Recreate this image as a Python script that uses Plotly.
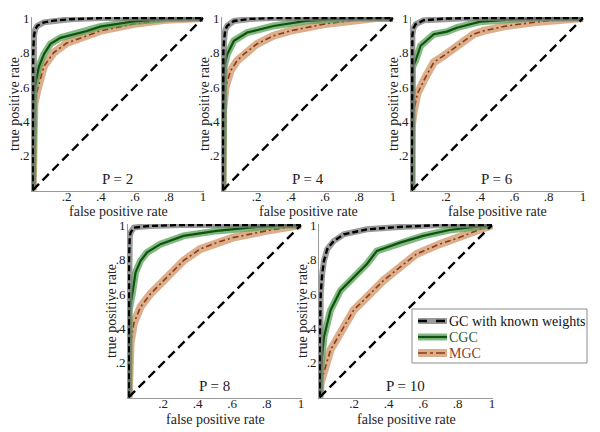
import plotly.graph_objects as go

# ---------------- data ----------------
panel_labels = ["P = 2", "P = 4", "P = 6", "P = 8", "P = 10"]
series_names = ["GC with known weights", "CGC", "MGC"]
tick_vals = [0.2, 0.4, 0.6, 0.8, 1.0]
tick_text = [".2", ".4", ".6", ".8", "1"]
x_title = "false positive rate"
y_title = "true positive rate"
diag_fpr = [0, 1]
diag_tpr = [0, 1]

# P = 2
gc_p2_fpr = [0, 0, 0.003, 0.008, 0.015, 0.027, 0.066, 0.124, 0.22, 0.4, 1]
gc_p2_tpr = [0, 0.55, 0.8, 0.9, 0.935, 0.955, 0.975, 0.985, 0.993, 1, 1]
cgc_p2_fpr = [0, 0, 0.008, 0.017, 0.037, 0.066, 0.105, 0.163, 0.24, 0.318, 0.395, 0.59, 0.8, 1]
cgc_p2_tpr = [0, 0.5, 0.58, 0.63, 0.72, 0.79, 0.85, 0.885, 0.905, 0.925, 0.95, 0.98, 0.997, 1]
mgc_p2_fpr = [0, 0, 0.01, 0.027, 0.066, 0.124, 0.2, 0.318, 0.395, 0.59, 0.78, 1]
mgc_p2_tpr = [0, 0.42, 0.5, 0.58, 0.72, 0.8, 0.855, 0.897, 0.925, 0.965, 0.99, 1]

# P = 4
gc_p4_fpr = [0, 0, 0.004, 0.008, 0.015, 0.027, 0.066, 0.16, 0.3, 1]
gc_p4_tpr = [0, 0.7, 0.8, 0.87, 0.93, 0.955, 0.983, 0.995, 1, 1]
cgc_p4_fpr = [0, 0, 0.008, 0.027, 0.066, 0.144, 0.298, 0.49, 0.68, 0.8, 1]
cgc_p4_tpr = [0, 0.45, 0.714, 0.79, 0.868, 0.916, 0.954, 0.983, 0.995, 1, 1]
mgc_p4_fpr = [0, 0.002, 0.017, 0.047, 0.085, 0.124, 0.2, 0.298, 0.395, 0.59, 0.78, 0.9, 1]
mgc_p4_tpr = [0, 0.465, 0.6, 0.695, 0.753, 0.79, 0.849, 0.897, 0.925, 0.964, 0.99, 1, 1]

# P = 6
gc_p6_fpr = [0, 0, 0.002, 0.004, 0.01, 0.023, 0.071, 0.2, 0.35, 1]
gc_p6_tpr = [0, 0.75, 0.85, 0.9, 0.94, 0.964, 0.987, 0.997, 1, 1]
cgc_p6_fpr = [0, 0, 0.004, 0.023, 0.052, 0.129, 0.206, 0.264, 0.4, 0.6, 0.75, 1]
cgc_p6_tpr = [0, 0.58, 0.714, 0.753, 0.839, 0.906, 0.921, 0.944, 0.979, 0.993, 1, 1]
mgc_p6_fpr = [0, 0, 0.013, 0.033, 0.071, 0.129, 0.2, 0.36, 0.418, 0.553, 0.746, 0.95, 1]
mgc_p6_tpr = [0, 0.37, 0.465, 0.56, 0.638, 0.743, 0.79, 0.906, 0.925, 0.954, 0.979, 1, 1]

# P = 8
gc_p8_fpr = [0, 0, 0.002, 0.006, 0.011, 0.03, 0.07, 0.126, 0.3, 1]
gc_p8_tpr = [0, 0.5, 0.8, 0.93, 0.956, 0.985, 0.99, 0.995, 1, 1]
cgc_p8_fpr = [0, 0, 0.003, 0.021, 0.04, 0.069, 0.107, 0.184, 0.318, 0.51, 0.7, 0.9, 1]
cgc_p8_tpr = [0, 0.39, 0.506, 0.6, 0.726, 0.793, 0.841, 0.889, 0.937, 0.966, 0.985, 1, 1]
mgc_p8_fpr = [0, 0, 0.011, 0.03, 0.069, 0.126, 0.222, 0.318, 0.414, 0.51, 0.605, 0.797, 1]
mgc_p8_tpr = [0, 0.16, 0.314, 0.43, 0.525, 0.6, 0.697, 0.793, 0.86, 0.898, 0.927, 0.966, 1]

# P = 10
gc_p10_fpr = [0, 0, 0.006, 0.015, 0.025, 0.044, 0.082, 0.14, 0.274, 0.466, 0.7, 1]
gc_p10_tpr = [0, 0.3, 0.6, 0.72, 0.793, 0.86, 0.908, 0.946, 0.975, 0.989, 1, 1]
cgc_p10_fpr = [0, 0.006, 0.025, 0.063, 0.121, 0.197, 0.274, 0.332, 0.466, 0.6, 0.753, 0.906, 1]
cgc_p10_tpr = [0, 0.16, 0.352, 0.506, 0.62, 0.697, 0.774, 0.85, 0.898, 0.937, 0.971, 0.99, 1]
mgc_p10_fpr = [0, 0.006, 0.063, 0.14, 0.197, 0.274, 0.37, 0.466, 0.562, 0.695, 0.81, 0.906, 1]
mgc_p10_tpr = [0, 0.084, 0.276, 0.41, 0.506, 0.582, 0.678, 0.755, 0.832, 0.889, 0.927, 0.966, 1]

panels = [
    (gc_p2_fpr, gc_p2_tpr, cgc_p2_fpr, cgc_p2_tpr, mgc_p2_fpr, mgc_p2_tpr),
    (gc_p4_fpr, gc_p4_tpr, cgc_p4_fpr, cgc_p4_tpr, mgc_p4_fpr, mgc_p4_tpr),
    (gc_p6_fpr, gc_p6_tpr, cgc_p6_fpr, cgc_p6_tpr, mgc_p6_fpr, mgc_p6_tpr),
    (gc_p8_fpr, gc_p8_tpr, cgc_p8_fpr, cgc_p8_tpr, mgc_p8_fpr, mgc_p8_tpr),
    (gc_p10_fpr, gc_p10_tpr, cgc_p10_fpr, cgc_p10_tpr, mgc_p10_fpr, mgc_p10_tpr),
]

# ---------------- styling ----------------
W, H = 600, 432
FONT = "Liberation Serif, Times New Roman, serif"
TXT = "#222222"
# pixel boxes (left, right, top, bottom)
boxes = [(32, 204, 17, 191), (222, 394, 17, 191), (411, 584, 17, 191),
         (128, 302, 224, 398), (319, 493, 224, 398)]

styles = {
    "GC with known weights": dict(band="rgba(120,120,120,0.75)", bw=6, col="black", lw=2.4, dash="6px,3px"),
    "CGC": dict(band="rgba(90,160,90,0.75)", bw=7, col="#0d520d", lw=2.2, dash="solid"),
    "MGC": dict(band="rgba(214,160,120,0.85)", bw=8, col="#8a3a14", lw=1.6, dash="6px,3px,2px,3px"),
}

fig = go.Figure()
layout = dict(width=W, height=H, margin=dict(l=0, r=0, t=0, b=0, autoexpand=False),
              paper_bgcolor="white", plot_bgcolor="white", showlegend=False,
              font=dict(family=FONT, size=14, color=TXT))
annotations = []

for i, (box, lab, data) in enumerate(zip(boxes, panel_labels, panels)):
    n = "" if i == 0 else str(i + 1)
    xa, ya = "x" + n, "y" + n
    l, r, t, b = box
    common = dict(range=[-0.004, 1.006], tickvals=tick_vals, ticktext=tick_text, showgrid=False,
                  zeroline=False, showline=True, linecolor="#9a9a9a", linewidth=1,
                  ticks="", automargin=False, tickfont=dict(family=FONT, size=13, color=TXT))
    layout["xaxis" + n] = dict(domain=[l / W, r / W], anchor=ya, ticklabelstandoff=-7, **common)
    layout["yaxis" + n] = dict(domain=[1 - b / H, 1 - t / H], anchor=xa, ticklabelstandoff=-1, **common)
    gf, gt, cf, ct, mf, mt = data
    for name, fx, ty in (("MGC", mf, mt), ("CGC", cf, ct), ("GC with known weights", gf, gt)):
        s = styles[name]
        fig.add_trace(go.Scatter(x=fx, y=ty, mode="lines", xaxis=xa, yaxis=ya, hoverinfo="skip",
                                 line=dict(color=s["band"], width=s["bw"])))
        fig.add_trace(go.Scatter(x=fx, y=ty, mode="lines", xaxis=xa, yaxis=ya, name=name,
                                 line=dict(color=s["col"], width=s["lw"], dash=s["dash"])))
    fig.add_trace(go.Scatter(x=diag_fpr, y=diag_tpr, mode="lines", xaxis=xa, yaxis=ya,
                             hoverinfo="skip", line=dict(color="black", width=2.4, dash="9px,5px")))
    annotations.append(dict(text=lab, x=0.5, y=0.005, xref=xa, yref=ya, showarrow=False,
                            xanchor="center", yanchor="bottom", font=dict(family=FONT, size=15, color=TXT)))
    # axis titles
    annotations.append(dict(text=x_title, x=(l + r) / 2 / W, y=1 - (b + 21) / H, xref="paper", yref="paper",
                            showarrow=False, xanchor="center", yanchor="middle",
                            font=dict(family=FONT, size=14, color=TXT)))
    annotations.append(dict(text=y_title, x=(l - 17) / W, y=1 - (t + b) / 2 / H, xref="paper", yref="paper",
                            showarrow=False, xanchor="center", yanchor="middle", textangle=-90,
                            font=dict(family=FONT, size=14, color=TXT)))

# ---------------- manual legend ----------------
lx0, lx1, ly0, ly1 = 412, 587, 309, 363
shapes = [dict(type="rect", xref="paper", yref="paper", x0=lx0 / W, x1=lx1 / W,
               y0=1 - ly1 / H, y1=1 - ly0 / H, line=dict(color="#8c8c8c", width=1),
               fillcolor="white", layer="above")]
text_cols = {"GC with known weights": "#111111", "CGC": "#2b5a2b", "MGC": "#8a3f2a"}
leg_dash = {"GC with known weights": "dash", "CGC": "solid", "MGC": "dashdot"}
for k, name in enumerate(series_names):
    yc = 1 - (321 + 16 * k) / H
    s = styles[name]
    shapes.append(dict(type="line", xref="paper", yref="paper", x0=418 / W, x1=447 / W, y0=yc, y1=yc,
                       line=dict(color=s["band"], width=s["bw"]), layer="above"))
    shapes.append(dict(type="line", xref="paper", yref="paper", x0=418 / W, x1=447 / W, y0=yc, y1=yc,
                       line=dict(color=s["col"], width=s["lw"], dash=leg_dash[name]), layer="above"))
    annotations.append(dict(text=name, x=447 / W, y=yc, xref="paper", yref="paper", showarrow=False,
                            xanchor="left", yanchor="middle", font=dict(family=FONT, size=14, color=text_cols[name])))

layout["shapes"] = shapes
layout["annotations"] = annotations
fig.update_layout(**layout)
fig.write_html("out.html", config={"displayModeBar": False},
               post_script="document.body.style.margin='0';document.body.style.padding='0';")
